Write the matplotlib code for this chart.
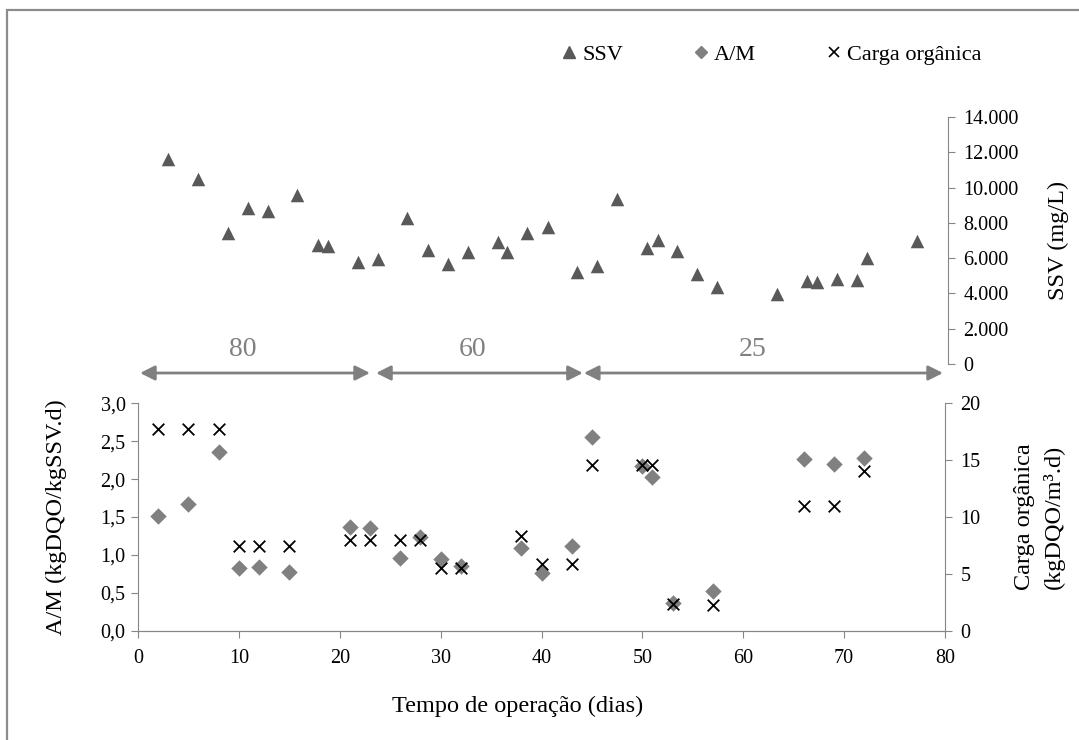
#!/usr/bin/env python3
"""SSV, A/M e carga orgânica ao longo do tempo de operação."""

import matplotlib
matplotlib.use("Agg")
import matplotlib.pyplot as plt
from matplotlib.lines import Line2D
from matplotlib.patches import Rectangle
from matplotlib.ticker import FuncFormatter, MultipleLocator

# SSV (mg/L), painel superior
ssv_dias = [3.0, 5.95, 8.9, 10.9, 12.85, 15.8, 17.8, 18.8, 21.8, 23.75, 26.7,
            28.7, 30.7, 32.7, 35.65, 36.6, 38.6, 40.6, 43.5, 45.5, 47.5, 50.5,
            51.5, 53.4, 55.4, 57.4, 63.3, 66.3, 67.3, 69.3, 71.3, 72.25, 77.2]
ssv_vals = [11620, 10490, 7410, 8830, 8690, 9580, 6730, 6700, 5800, 5930, 8290,
            6460, 5670, 6330, 6920, 6370, 7440, 7750, 5230, 5570, 9350, 6590,
            7030, 6420, 5100, 4350, 3970, 4720, 4630, 4820, 4760, 6030, 6990]

# A/M e carga orgânica, painel inferior
dias = [2, 5, 8, 10, 12, 15, 21, 23, 26, 28, 30, 32, 38, 40, 43, 45, 50, 51,
        53, 57, 66, 69, 72]
am_vals = [1.51, 1.67, 2.36, 0.83, 0.84, 0.77, 1.37, 1.35, 0.96, 1.24, 0.95,
           0.85, 1.09, 0.76, 1.12, 2.56, 2.17, 2.03, 0.36, 0.52, 2.26, 2.20, 2.28]
carga_vals = [17.7, 17.7, 17.7, 7.45, 7.45, 7.45, 8.0, 8.0, 8.0, 8.0, 5.5, 5.5,
              8.3, 5.9, 5.9, 14.55, 14.55, 14.55, 2.35, 2.3, 11.0, 11.0, 14.05]

# fases (setas + rótulos)
fase_labels = ["80", "60", "25"]
fase_inicio = [0.2, 23.6, 44.2]
fase_fim = [23.0, 44.1, 79.8]
fase_label_x = [10.4, 33.2, 60.9]

FONT = ["Liberation Serif", "DejaVu Serif"]
AXIS_GRAY = "#868686"
TICK_FS = 14.5
LABEL_FS = 17.5

plt.rcParams["font.family"] = FONT

W, H = 1079, 740
fig = plt.figure(figsize=(W / 100, H / 100), dpi=100)

# borda da área do gráfico (Excel)
fig.patches.append(Rectangle((7 / W, -0.2), 2.0, 1.2 - 10 / H,
                             transform=fig.transFigure, fill=False,
                             edgecolor="#8c8c8c", lw=1.6, zorder=0))

left, right = 138 / W, 945 / W
ax_top = fig.add_axes([left, 1 - 364 / H, right - left, (364 - 117) / H])
ax_bot = fig.add_axes([left, 1 - 630.7 / H, right - left, (630.7 - 403.3) / H])
ax_car = ax_bot.twinx()

comma = FuncFormatter(lambda v, p: f"{v:.1f}".replace(".", ","))
milhar = FuncFormatter(lambda v, p: f"{int(v):,}".replace(",", "."))

# --- painel superior: SSV ---
ax_top.scatter(ssv_dias, ssv_vals, marker="^", s=95, color="#595959",
               linewidths=0, zorder=3)
ax_top.set_xlim(0, 80)
ax_top.set_ylim(0, 14000)
ax_top.yaxis.set_major_locator(MultipleLocator(2000))
ax_top.yaxis.set_major_formatter(milhar)
ax_top.yaxis.tick_right()
ax_top.yaxis.set_label_position("right")
for s in ["left", "top", "bottom"]:
    ax_top.spines[s].set_visible(False)
ax_top.spines["right"].set_color(AXIS_GRAY)
ax_top.spines["right"].set_position(("axes", 1.004))
ax_top.tick_params(axis="y", direction="out", length=5, color=AXIS_GRAY,
                   labelsize=TICK_FS, pad=6)
ax_top.set_xticks([])
ax_top.set_ylabel("SSV (mg/L)", fontsize=LABEL_FS, labelpad=21)
ax_top.patch.set_alpha(0)

# setas das fases
arrow_y = -(373 - 364) / (364 - 117)
for lab, x0, x1, xl in zip(fase_labels, fase_inicio, fase_fim, fase_label_x):
    ax_top.annotate("", xy=(x1, arrow_y), xytext=(x0, arrow_y),
                    xycoords=ax_top.get_xaxis_transform(),
                    textcoords=ax_top.get_xaxis_transform(),
                    arrowprops=dict(arrowstyle="<|-|>", color="#808080",
                                    lw=2, mutation_scale=22,
                                    shrinkA=0, shrinkB=0),
                    annotation_clip=False)
    ax_top.text(xl, arrow_y + 0.095, lab, transform=ax_top.get_xaxis_transform(),
                ha="center", va="center", fontsize=20, color="#808080")

# --- painel inferior: A/M e carga orgânica ---
ax_bot.scatter(dias, am_vals, marker="D", s=70, color="#808080",
               linewidths=0, zorder=3)
ax_car.scatter(dias, carga_vals, marker="x", s=70, color="black",
               linewidths=1.3, zorder=4)

ax_bot.set_xlim(0, 80)
ax_bot.set_ylim(0, 3)
ax_car.set_ylim(0, 20)
ax_bot.xaxis.set_major_locator(MultipleLocator(10))
ax_bot.yaxis.set_major_locator(MultipleLocator(0.5))
ax_bot.yaxis.set_major_formatter(comma)
ax_car.yaxis.set_major_locator(MultipleLocator(5))

for a in (ax_bot, ax_car):
    a.spines["top"].set_visible(False)
    for s in ["left", "right", "bottom"]:
        a.spines[s].set_color(AXIS_GRAY)
    a.tick_params(direction="out", length=5, color=AXIS_GRAY,
                  labelsize=TICK_FS)
ax_bot.spines["right"].set_visible(False)
ax_car.spines["left"].set_visible(False)
ax_bot.tick_params(axis="x", pad=8)
ax_bot.tick_params(axis="y", pad=4)
ax_car.tick_params(axis="y", pad=6)

ax_bot.set_xlabel("Tempo de operação (dias)", fontsize=LABEL_FS, labelpad=20)
ax_bot.xaxis.label.set_x(0.47)
ax_bot.set_ylabel("A/M (kgDQO/kgSSV.d)", fontsize=LABEL_FS, labelpad=24)
ax_car.set_ylabel("Carga orgânica\n(kgDQO/m³.d)", fontsize=LABEL_FS,
                  labelpad=24, linespacing=1.5)

# legenda
handles = [
    Line2D([], [], marker="^", ls="none", color="#595959", markersize=8),
    Line2D([], [], marker="D", ls="none", color="#808080", markersize=6.5),
    Line2D([], [], marker="x", ls="none", color="black", markersize=7,
           markeredgewidth=1.2),
]
fig.legend(handles, ["SSV", "A/M", "Carga orgânica"], loc="center",
           bbox_to_anchor=(772 / W, 1 - 55 / H), ncol=3, frameon=False,
           fontsize=16, handlelength=0.6, handletextpad=0.3,
           columnspacing=3.2)

fig.savefig("out.png", dpi=100)
